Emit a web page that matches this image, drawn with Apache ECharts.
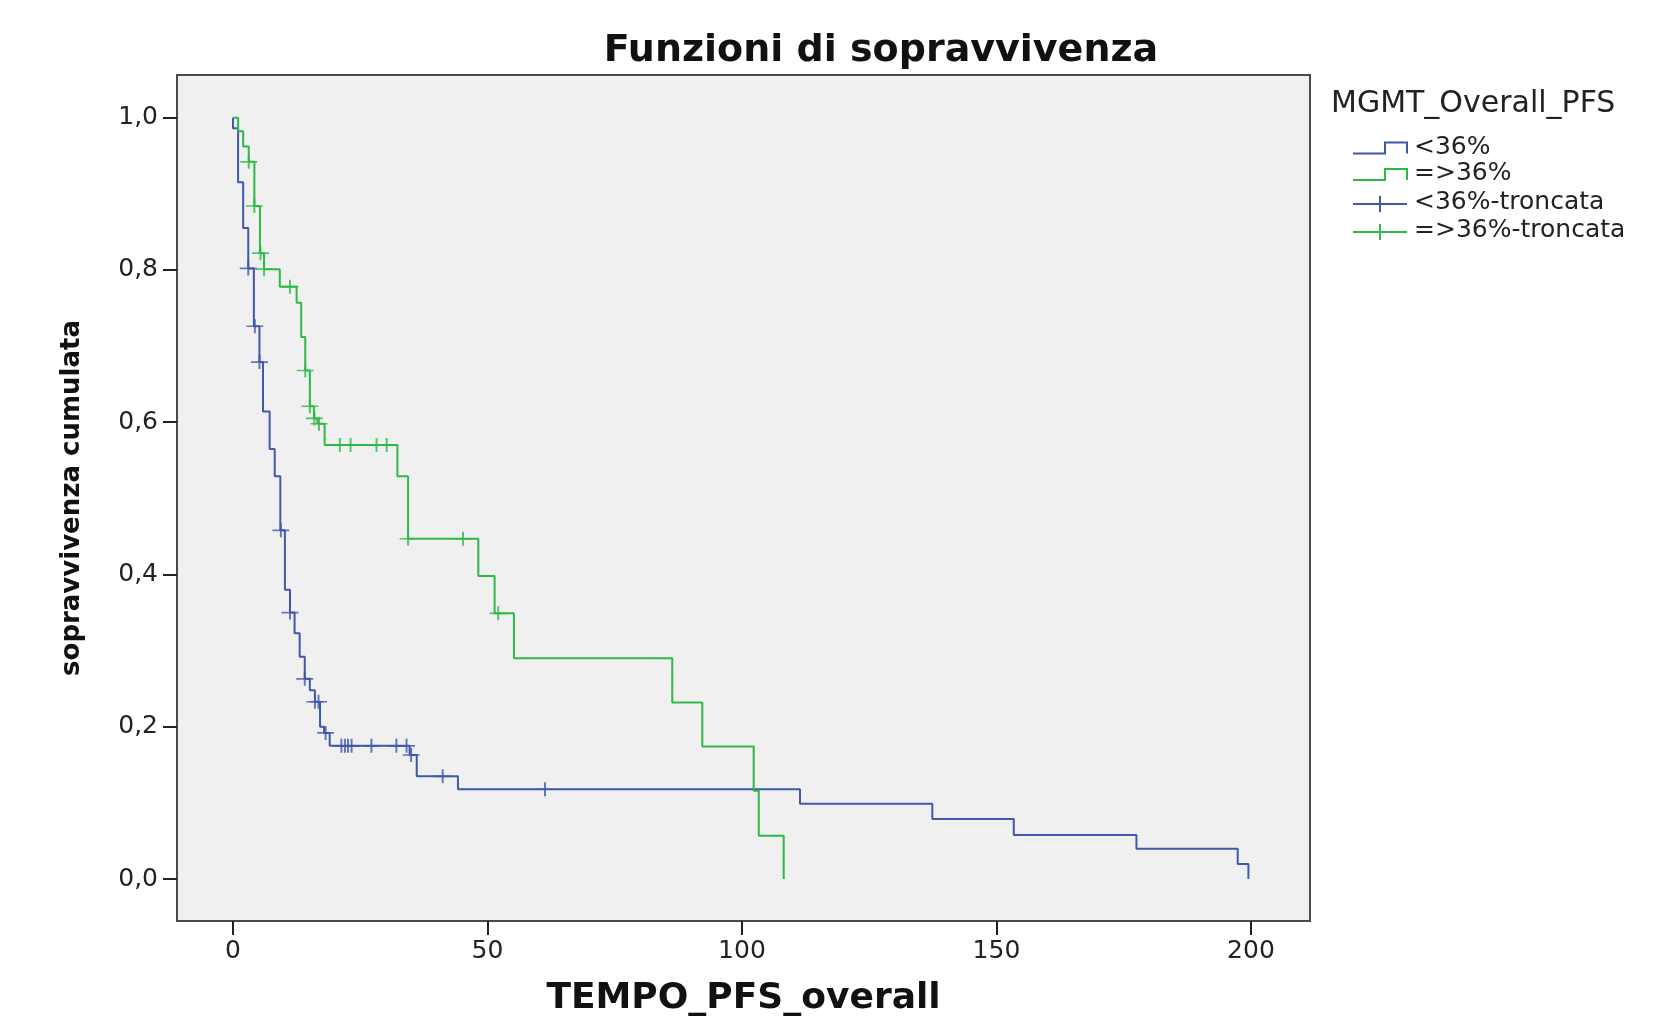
<!DOCTYPE html>
<html>
<head>
<meta charset="utf-8">
<title>Funzioni di sopravvivenza</title>
<script src="https://cdn.jsdelivr.net/npm/echarts@6/dist/echarts.min.js"></script>
<style>
  html, body { margin: 0; padding: 0; background: #fff; }
  #chart { width: 1677px; height: 1022px; }
</style>
</head>
<body>
<div id="chart"></div>
<script>
// Kaplan-Meier steps (time, cumulative survival)
const blueTimes = [0, 0, 1.0, 2.0, 3.0, 4.1, 5.2, 5.9, 7.2, 8.2, 9.3, 10.2, 11.2, 12.1, 13.1, 14.1, 15.1, 16.1, 17.1, 17.9, 19.0, 34.7, 36.1, 44.2, 111.4, 137.4, 153.4, 177.5, 197.4, 199.5];
const blueSurv = [1.0, 0.986, 0.915, 0.855, 0.802, 0.726, 0.679, 0.614, 0.565, 0.529, 0.458, 0.380, 0.350, 0.323, 0.292, 0.263, 0.248, 0.233, 0.200, 0.192, 0.175, 0.163, 0.135, 0.118, 0.099, 0.079, 0.058, 0.040, 0.020, 0.0];

const greenTimes = [0, 1.0, 2.0, 3.1, 4.2, 5.3, 6.1, 9.2, 12.5, 13.4, 14.2, 15.1, 15.9, 16.6, 18.0, 32.3, 34.4, 48.2, 51.4, 55.2, 86.3, 92.2, 102.3, 103.3, 108.2];
const greenSurv = [1.0, 0.982, 0.962, 0.942, 0.884, 0.822, 0.801, 0.778, 0.757, 0.712, 0.668, 0.621, 0.605, 0.598, 0.570, 0.529, 0.447, 0.398, 0.349, 0.290, 0.232, 0.174, 0.116, 0.057, 0.0];

// censored cases (troncata)
const blueCensT = [3.0, 4.3, 5.2, 9.4, 11.2, 14.1, 16.1, 16.8, 18.2, 21.3, 22.0, 22.6, 23.3, 27.2, 32.1, 34.1, 35.0, 41.2, 61.3];
const blueCensS = [0.802, 0.726, 0.679, 0.458, 0.350, 0.263, 0.233, 0.233, 0.192, 0.175, 0.175, 0.175, 0.175, 0.175, 0.175, 0.175, 0.163, 0.135, 0.118];
const greenCensT = [3.1, 4.2, 5.4, 6.1, 11.2, 14.2, 15.1, 16.0, 16.9, 21.0, 23.1, 28.2, 30.2, 34.4, 45.2, 52.1];
const greenCensS = [0.942, 0.884, 0.822, 0.801, 0.778, 0.668, 0.621, 0.605, 0.598, 0.570, 0.570, 0.570, 0.570, 0.447, 0.447, 0.349];

const xTicks = [0, 50, 100, 150, 200];
const yTicks = [0, 0.2, 0.4, 0.6, 0.8, 1.0];

const groupNames = ['<36%', '=>36%', '<36%-troncata', '=>36%-troncata'];
const legendTitle = 'MGMT_Overall_PFS';

const BLUE = '#3e58ac';
const GREEN = '#2eb848';

function pairs(xs, ys) {
    return xs.map((x, i) => [x, ys[i]]);
}

// legend drawn by hand, SPSS style
function legendGraphics() {
    let items = [];
    let rows = [148.5, 175, 204, 232];
    let colors = [BLUE, GREEN, BLUE, GREEN];
    items.push({
        type: 'text', left: 1331, top: 89,
        style: { text: legendTitle, font: '30px "DejaVu Sans"', fill: '#222' }
    });
    rows.forEach((cy, i) => {
        let c = colors[i];
        if (i < 2) {
            items.push({
                type: 'polyline',
                shape: { points: [[1353, cy + 5], [1385, cy + 5], [1385, cy - 6], [1407, cy - 6], [1407, cy + 5]] },
                style: { stroke: c, lineWidth: 2, fill: null }
            });
        } else {
            items.push({
                type: 'polyline',
                shape: { points: [[1353, cy], [1407, cy]] },
                style: { stroke: c, lineWidth: 2, fill: null }
            });
            items.push({
                type: 'polyline',
                shape: { points: [[1380, cy - 8], [1380, cy + 8]] },
                style: { stroke: c, lineWidth: 2, fill: null }
            });
        }
        items.push({
            type: 'text', left: 1414, top: cy - 14,
            style: { text: groupNames[i], font: '25px "DejaVu Sans"', fill: '#222' }
        });
    });
    return items;
}

const crossPath = 'path://M5,0 L5,10 M0,5 L10,5';
const fmt = v => v.toFixed(1).replace('.', ',');

let chart = echarts.init(document.getElementById('chart'));
chart.setOption({
    animation: false,
    backgroundColor: '#ffffff',
    title: {
        text: 'Funzioni di sopravvivenza',
        left: 876, top: 27, textAlign: 'center',
        textStyle: { fontFamily: 'DejaVu Sans', fontWeight: 'bold', fontSize: 38, color: '#111' }
    },
    grid: {
        left: 177, top: 75, width: 1133, height: 847,
        show: true, backgroundColor: '#f0f0f0',
        borderColor: '#4a4a4a', borderWidth: 2
    },
    xAxis: {
        type: 'value', min: -11, max: 211.6,
        name: 'TEMPO_PFS_overall', nameLocation: 'middle', nameGap: 60,
        nameTextStyle: { fontFamily: 'DejaVu Sans', fontWeight: 'bold', fontSize: 36, color: '#111' },
        splitLine: { show: false },
        axisLine: { show: true, onZero: false, lineStyle: { color: '#4a4a4a', width: 2 } },
        axisTick: { show: true, customValues: xTicks, length: 14, lineStyle: { color: '#222', width: 2 } },
        axisLabel: {
            customValues: xTicks, margin: 18,
            fontFamily: 'DejaVu Sans', fontSize: 25, color: '#222'
        }
    },
    yAxis: {
        type: 'value', min: -0.055, max: 1.056,
        name: 'sopravvivenza cumulata', nameLocation: 'middle', nameGap: 92,
        nameTextStyle: { fontFamily: 'DejaVu Sans', fontWeight: 'bold', fontSize: 26, color: '#111' },
        splitLine: { show: false },
        axisLine: { show: true, onZero: false, lineStyle: { color: '#4a4a4a', width: 2 } },
        axisTick: { show: true, customValues: yTicks, length: 14, lineStyle: { color: '#222', width: 2 } },
        axisLabel: {
            customValues: yTicks, margin: 19, formatter: fmt,
            fontFamily: 'DejaVu Sans', fontSize: 25, color: '#222'
        }
    },
    graphic: legendGraphics(),
    series: [
        {
            name: groupNames[0], type: 'line', step: 'end', showSymbol: false,
            data: pairs(blueTimes, blueSurv),
            lineStyle: { color: BLUE, width: 2 }, z: 2
        },
        {
            name: groupNames[1], type: 'line', step: 'end', showSymbol: false,
            data: pairs(greenTimes, greenSurv),
            lineStyle: { color: GREEN, width: 2 }, z: 3
        },
        {
            name: groupNames[2], type: 'scatter', symbol: crossPath, symbolSize: [17, 14],
            data: pairs(blueCensT, blueCensS),
            itemStyle: { color: 'none', borderColor: BLUE, borderWidth: 1.8 }, z: 4
        },
        {
            name: groupNames[3], type: 'scatter', symbol: crossPath, symbolSize: [17, 14],
            data: pairs(greenCensT, greenCensS),
            itemStyle: { color: 'none', borderColor: GREEN, borderWidth: 1.8 }, z: 5
        }
    ]
});
</script>
</body>
</html>
